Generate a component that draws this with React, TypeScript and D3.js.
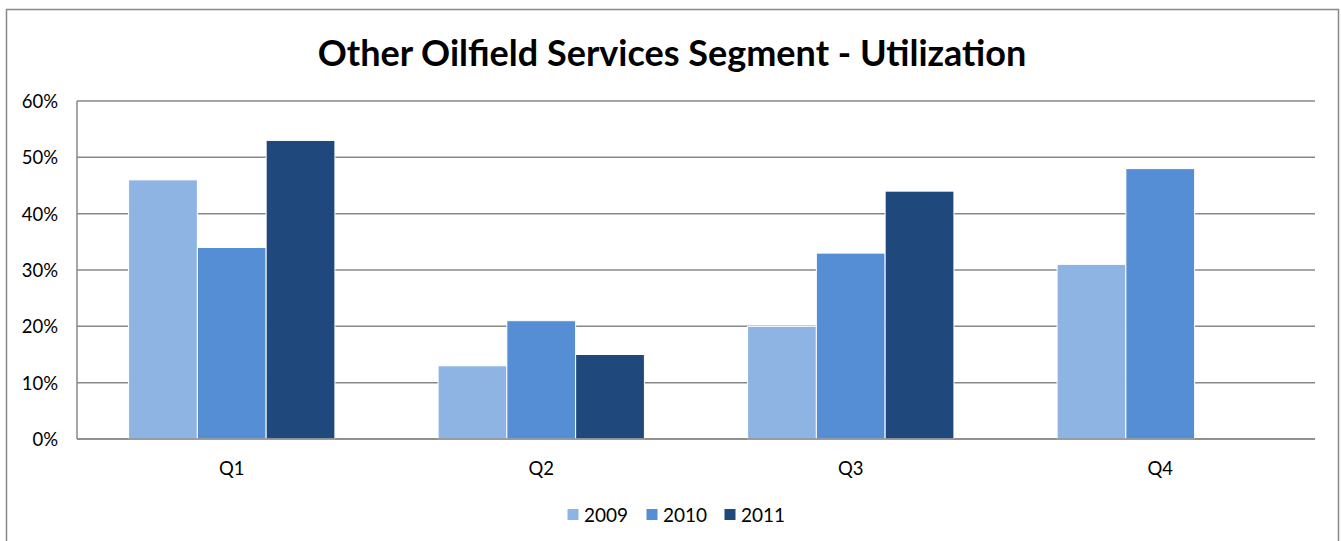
import React from "react";
import * as d3 from "d3";

const quarters = ["Q1", "Q2", "Q3", "Q4"];
const years = ["2009", "2010", "2011"];
const values2009 = [46, 13, 20, 31];
const values2010 = [34, 21, 33, 48];
const values2011: (number | null)[] = [53, 15, 44, null];
const yTicks = [0, 10, 20, 30, 40, 50, 60];
const colors = ["#8EB4E3", "#558ED5", "#1F497D"];
const title = "Other Oilfield Services Segment - Utilization";

export default function App() {
  const W = 1341, H = 541;
  const left = 77, right = 1315, top = 101, bottom = 439;
  const series = [values2009, values2010, values2011];
  const x0 = d3.scaleBand().domain(quarters).range([left, right]).paddingInner(0).paddingOuter(0);
  const bw = x0.bandwidth() / 4.5;
  const y = d3.scaleLinear().domain([0, 60]).range([bottom, top]);
  const font = "Lato, 'Open Sans', sans-serif";
  const legendX = [567, 646, 724];
  return (
    <svg width={W} height={H} style={{ position: "fixed", left: 0, top: 0, background: "#fff" }} fontFamily={font}>
      <rect x={6.5} y={9.5} width={1332} height={540} fill="#fff" stroke="#888" strokeWidth={1.5} />
      <text x={672} y={66} textAnchor="middle" fontSize={36} fontWeight="bold" fill="#000">{title}</text>
      {yTicks.map((t) => (
        <g key={t}>
          <line x1={left} x2={right} y1={y(t)} y2={y(t)} stroke="#888" strokeWidth={1.5} />
          <text x={58} y={y(t) + 7} textAnchor="end" fontSize={18.5} fill="#000">{t}%</text>
        </g>
      ))}
      <line x1={left} x2={left} y1={top} y2={bottom} stroke="#888" strokeWidth={1.5} />
      {quarters.map((q, qi) => {
        const start = (x0(q) as number) + bw * 0.75;
        return (
          <g key={q}>
            {series.map((s, si) => {
              const v = s[qi];
              if (v == null) return null;
              return (
                <rect key={si} x={start + si * bw} y={y(v)} width={bw} height={bottom - y(v)}
                  fill={colors[si]} stroke="#fff" strokeWidth={1} />
              );
            })}
            <text x={(x0(q) as number) + x0.bandwidth() / 2} y={475} textAnchor="middle" fontSize={18.5} fill="#000">{q}</text>
          </g>
        );
      })}
      <line x1={left} x2={right} y1={bottom} y2={bottom} stroke="#888" strokeWidth={1.5} />
      {years.map((yr, i) => {
        const lx = legendX[i];
        return (
          <g key={yr}>
            <rect x={lx} y={508.5} width={12} height={12} fill={colors[i]} stroke="#fff" strokeWidth={1} />
            <text x={lx + 17} y={522} fontSize={19} fill="#000">{yr}</text>
          </g>
        );
      })}
    </svg>
  );
}
